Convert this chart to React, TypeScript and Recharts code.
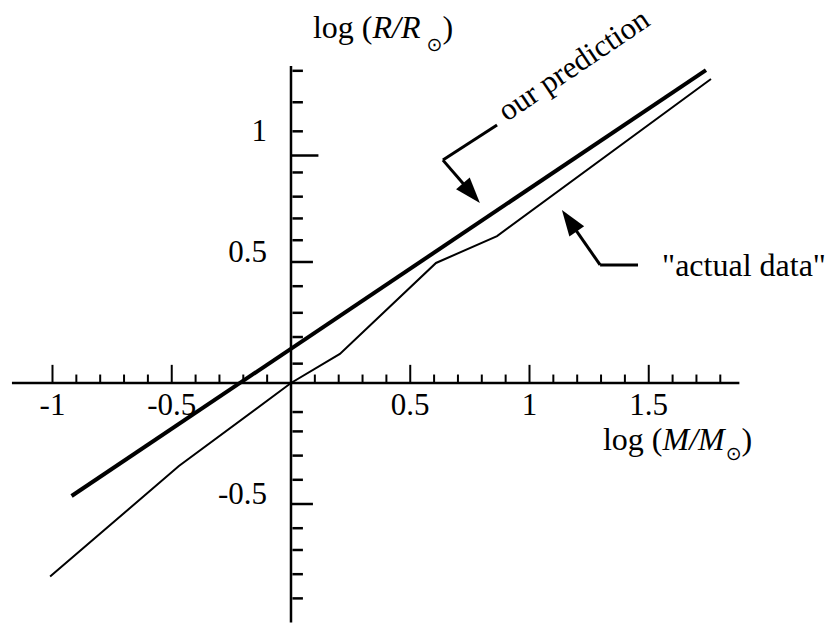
import { ComposedChart, Line, XAxis, YAxis, ReferenceLine, ReferenceDot } from 'recharts';

// straight line through the two end points
const predX = [-0.92, 1.74];
const predY = [-0.467, 1.293];

// "actual data" polyline
const actualX = [-1.01, -0.47, 0, 0.205, 0.608, 0.864, 1.761];
const actualY = [-0.8, -0.343, 0, 0.12, 0.496, 0.607, 1.256];

const xMajorTicks = [-1, -0.5, 0.5, 1, 1.5];
const xTickLabels = ['-1', '-0.5', '0.5', '1', '1.5'];
const xMinorTicks = [
  -0.9, -0.8, -0.7, -0.6, -0.4, -0.3, -0.2, -0.1, 0.1, 0.2, 0.3, 0.4,
  0.6, 0.7, 0.8, 0.9, 1.1, 1.2, 1.3, 1.4, 1.6, 1.7, 1.8,
];

// the y ticks in the figure are hand-placed, so these are the drawn positions
const yMinorTicks = [
  -0.89, -0.79, -0.69, -0.6, -0.4, -0.3, -0.2, -0.12, 0.08, 0.19, 0.29, 0.4,
  0.59, 0.68, 0.77, 0.87, 1.04, 1.16, 1.29,
];
const yMidTicks = [-0.5, 0.5];
const yLongTicks = [0.94];
const yLabelValues = [1, 0.5, -0.5];
const yTickLabels = ['1', '0.5', '-0.5'];

const predictionCallout = [
  [0.864, 1.066],
  [0.637, 0.921],
  [0.792, 0.744],
];
const actualCallout = [
  [1.455, 0.488],
  [1.296, 0.488],
  [1.136, 0.715],
];

const predData = predX.map((x, i) => ({ x, y: predY[i] }));
const actualData = actualX.map((x, i) => ({ x, y: actualY[i] }));

const FONT = 'Liberation Serif, Times New Roman, serif';
const INK = '#000';

const Arrow = (props: any) => {
  const { x1, y1, x2, y2 } = props;
  const dx = x2 - x1;
  const dy = y2 - y1;
  const len = Math.hypot(dx, dy) || 1;
  const ux = dx / len;
  const uy = dy / len;
  const L = 26;
  const w = 9;
  const bx = x2 - ux * L;
  const by = y2 - uy * L;
  const pts = `${x2},${y2} ${bx - uy * w},${by + ux * w} ${bx + uy * w},${by - ux * w}`;
  return (
    <g>
      <line x1={x1} y1={y1} x2={bx + ux * 4} y2={by + uy * 4} stroke={INK} strokeWidth={3} />
      <polygon points={pts} fill={INK} />
    </g>
  );
};

const titleText = (sym: string, gap: number, drop: number) => (p: any) => (
  <text x={p.cx} y={p.cy} fontFamily={FONT} fontSize={32} fill={INK}>
    <tspan>log (</tspan>
    <tspan fontStyle="italic">{`${sym}/${sym}`}</tspan>
    <tspan fontFamily="DejaVu Sans" fontSize={19} dx={gap} dy={drop}>
      ⊙
    </tspan>
    <tspan dy={-drop}>)</tspan>
  </text>
);

export default function App() {
  return (
    <div>
      <style>{'body{margin:0}'}</style>
      <ComposedChart width={827} height={623} margin={{ top: 0, right: 0, bottom: 0, left: 0 }}>
        <XAxis type="number" dataKey="x" domain={[-1.2201, 2.2474]} allowDataOverflow hide />
        <YAxis type="number" dataKey="y" domain={[-0.9917, 1.5826]} allowDataOverflow hide />

        {/* axes */}
        <ReferenceLine segment={[{ x: -1.17, y: 0 }, { x: 1.88, y: 0 }]} stroke={INK} strokeWidth={2.5} />
        <ReferenceLine segment={[{ x: 0, y: -0.99 }, { x: 0, y: 1.31 }]} stroke={INK} strokeWidth={2.5} />

        {xMajorTicks.map((v) => (
          <ReferenceLine key={`xM${v}`} segment={[{ x: v, y: 0 }, { x: v, y: 0.075 }]} stroke={INK} strokeWidth={2} />
        ))}
        {xMinorTicks.map((v) => (
          <ReferenceLine key={`xm${v}`} segment={[{ x: v, y: 0 }, { x: v, y: 0.035 }]} stroke={INK} strokeWidth={2} />
        ))}
        {yMinorTicks.map((v) => (
          <ReferenceLine key={`ym${v}`} segment={[{ x: 0.006, y: v }, { x: 0.05, y: v }]} stroke={INK} strokeWidth={2.5} />
        ))}
        {yMidTicks.map((v) => (
          <ReferenceLine key={`yd${v}`} segment={[{ x: 0, y: v }, { x: 0.092, y: v }]} stroke={INK} strokeWidth={2.5} />
        ))}
        {yLongTicks.map((v) => (
          <ReferenceLine key={`yl${v}`} segment={[{ x: 0, y: v }, { x: 0.115, y: v }]} stroke={INK} strokeWidth={2.5} />
        ))}

        {xMajorTicks.map((v, i) => (
          <ReferenceDot
            key={`xl${v}`}
            x={v}
            y={0}
            r={0}
            shape={(p: any) => (
              <text x={p.cx} y={p.cy + 32} textAnchor="middle" fontFamily={FONT} fontSize={31} fill={INK}>
                {xTickLabels[i]}
              </text>
            )}
          />
        ))}
        {yLabelValues.map((v, i) => (
          <ReferenceDot
            key={`yt${v}`}
            x={0}
            y={v}
            r={0}
            shape={(p: any) => (
              <text x={p.cx - 24} y={p.cy} textAnchor="end" fontFamily={FONT} fontSize={31} fill={INK}>
                {yTickLabels[i]}
              </text>
            )}
          />
        ))}

        <Line
          data={actualData}
          dataKey="y"
          type="linear"
          stroke={INK}
          strokeWidth={2}
          dot={false}
          activeDot={false}
          isAnimationActive={false}
        />
        <Line
          data={predData}
          dataKey="y"
          type="linear"
          stroke={INK}
          strokeWidth={4}
          dot={false}
          activeDot={false}
          isAnimationActive={false}
        />

        {/* callouts */}
        <ReferenceLine
          segment={[{ x: predictionCallout[0][0], y: predictionCallout[0][1] }, { x: predictionCallout[1][0], y: predictionCallout[1][1] }]}
          stroke={INK}
          strokeWidth={3}
        />
        <ReferenceLine
          segment={[{ x: predictionCallout[1][0], y: predictionCallout[1][1] }, { x: predictionCallout[2][0], y: predictionCallout[2][1] }]}
          shape={Arrow}
        />
        <ReferenceLine
          segment={[{ x: actualCallout[0][0], y: actualCallout[0][1] }, { x: actualCallout[1][0], y: actualCallout[1][1] }]}
          stroke={INK}
          strokeWidth={3}
        />
        <ReferenceLine
          segment={[{ x: actualCallout[1][0], y: actualCallout[1][1] }, { x: actualCallout[2][0], y: actualCallout[2][1] }]}
          shape={Arrow}
        />

        {/* text */}
        <ReferenceDot x={0.092} y={1.426} r={0} shape={titleText('R', 6, 13)} />
        <ReferenceDot x={1.308} y={-0.277} r={0} shape={titleText('M', 1, 10)} />
        <ReferenceDot
          x={0.905}
          y={1.078}
          r={0}
          shape={(p: any) => (
            <text
              x={p.cx}
              y={p.cy}
              transform={`rotate(-34 ${p.cx} ${p.cy})`}
              fontFamily={FONT}
              fontSize={31}
              fill={INK}
            >
              our prediction
            </text>
          )}
        />
        <ReferenceDot
          x={1.556}
          y={0.442}
          r={0}
          shape={(p: any) => (
            <text x={p.cx} y={p.cy} fontFamily={FONT} fontSize={32} fill={INK}>
              "actual data"
            </text>
          )}
        />
      </ComposedChart>
    </div>
  );
}
